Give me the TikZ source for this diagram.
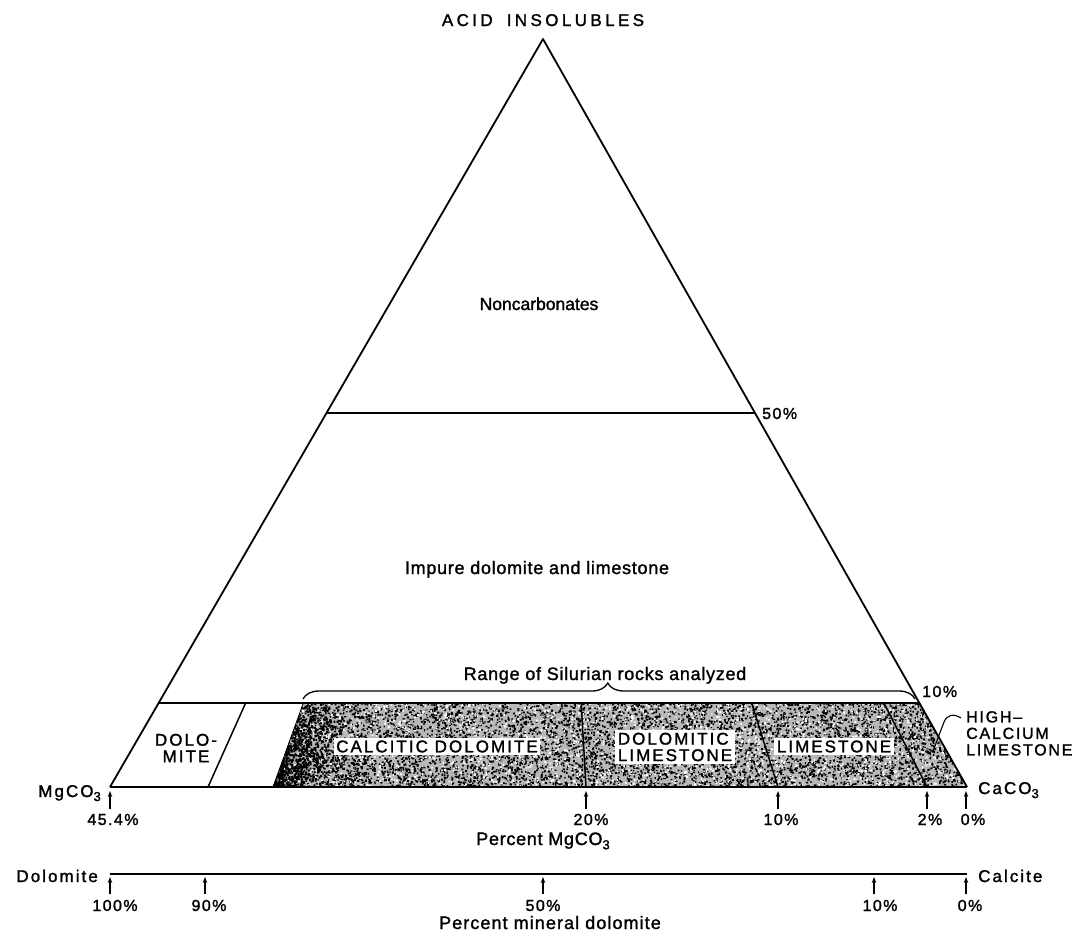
\documentclass[tikz,border=0pt]{standalone}
\usepackage{fontspec}
\setmainfont{Liberation Sans}[FakeBold=1.5]
\usetikzlibrary{calc,arrows.meta,decorations.pathreplacing}
\newcommand\fUC{\fontsize{17}{17}\selectfont\addfontfeature{LetterSpace=12}}
\newcommand\fLC{\fontsize{18}{18}\selectfont\addfontfeature{LetterSpace=4}}
\newcommand\fNum{\fontsize{16}{16}\selectfont\addfontfeature{LetterSpace=9}}
\newcommand\fHC{\fontsize{16}{16.5}\selectfont\addfontfeature{LetterSpace=11}}
\newcommand\mysub[1]{\raisebox{-0.45ex}{\fontsize{13}{13}\selectfont #1}}
\begin{document}
\begin{tikzpicture}[x=1pt,y=-1pt,
  edge/.style={line width=1.8pt,line join=round},
  baseedge/.style={line width=2.6pt},
  divline/.style={line width=1.5pt},
  tickarrow/.style={line width=1.2pt,-{Stealth[length=6pt,width=4.5pt]}},
  lbl/.style={inner sep=0pt,anchor=base},
  boxlbl/.style={fill=white,inner sep=2.5pt,font=\fUC}]
\useasboundingbox (0,0) rectangle (1076,932);
\def\lv{0.1123}
% corners
\coordinate (A) at (543,39);
\coordinate (L) at (110,787);
\coordinate (R) at (967,787);
\coordinate (L50) at ($(L)!0.5!(A)$);
\coordinate (R50) at ($(R)!0.5!(A)$);
\coordinate (L10) at ($(L)!\lv!(A)$);
\coordinate (R10) at ($(R)!\lv!(A)$);
% base points of the dividing lines
\coordinate (bDol) at (208,787);
\coordinate (bSt) at (273,787);
\coordinate (b20) at (586,787);
\coordinate (b10) at (778,787);
\coordinate (b2) at (927,787);
\coordinate (tDol) at ($(bDol)!\lv!(A)$);
\coordinate (tSt) at ($(bSt)!\lv!(A)$);
\coordinate (t20) at ($(b20)!\lv!(A)$);
\coordinate (t10) at ($(b10)!\lv!(A)$);
\coordinate (t2) at ($(b2)!\lv!(A)$);
% stippled field
\begin{scope}
\clip (bSt) -- (tSt) -- (R10) -- (R) -- cycle;
\fill[black!28] (250,690) rectangle (990,800);
\pgfmathsetseed{4242}
\foreach \j in {1,...,50}{
  \fill[black] foreach \i in {1,...,150} {({272+696*rnd},{702+86*rnd}) rectangle ++({1+1.3*rnd},{1+1.3*rnd})};
}
\foreach \j in {1,...,14}{
  \fill[white] foreach \i in {1,...,150} {({272+696*rnd},{702+86*rnd}) rectangle ++({1+1.2*rnd},{1+1.2*rnd})};
}
\foreach \j in {1,...,10}{
  \fill[black] foreach \i in {1,...,150} {({272+90*rnd*rnd},{702+86*rnd}) rectangle ++(1.8,1.8)};
}
\end{scope}
% triangle and levels
\draw[edge] (L) -- (A) -- (R);
\draw[baseedge] (L) -- (R);
\draw[edge] (L50) -- (R50);
\draw[edge] (L10) -- (R10);
\draw[divline] (bDol) -- (tDol);
\draw[line width=0.8pt] (bSt) -- (tSt);
\draw[divline] (b20) -- (t20);
\draw[divline] (b10) -- (t10);
\draw[divline] (b2) -- (t2);
% field labels
\node[boxlbl] (calcdol) at (437,746.5) {CALCITIC DOLOMITE};
\node[boxlbl,align=left] (dollime) at (675,747) {DOLOMITIC\\[-0.5pt]LIMESTONE};
\node[boxlbl] (lime) at (834,746.5) {LIMESTONE};
\node[font=\fUC,align=center,inner sep=0pt] (dolo) at (186,748) {DOLO-\\[-0.5pt]MITE};
\node[font=\fHC,align=left,inner sep=0pt,anchor=north west] (hical) at (966,711) {HIGH--\\CALCIUM\\LIMESTONE};
\coordinate (hcA) at (961,718);
\coordinate (hcB) at (933,751);
\draw[line width=1.1pt] (hcA) .. controls (953,713) and (947,715) .. (944,722) -- (hcB);
% brace
\coordinate (brL) at (303,699);
\coordinate (brR) at (915,699);
\draw[line width=1.3pt,decorate,decoration={brace,amplitude=16pt,aspect=0.498}] (brL) -- (brR);
\node[lbl,font=\fLC] (range) at (605,680) {Range of Silurian rocks analyzed};
% region labels
\node[lbl,font={\fontsize{17}{17}\selectfont\addfontfeature{LetterSpace=20}}] (acid) at (543,26) {ACID\hspace{14pt}INSOLUBLES};
\node[lbl,font=\fontsize{17.5}{17.5}\selectfont] (noncarb) at (539,310) {Noncarbonates};
\node[lbl,font=\fLC] (impure) at (537,574) {Impure dolomite and limestone};
\node[lbl,font=\fNum,anchor=base west] (p50) at (762,419) {50\%};
\node[lbl,font=\fNum,anchor=base west] (p10) at (922,697) {10\%};
\node[lbl,font=\fUC,anchor=base east] (mg) at (101,797) {MgCO\mysub{3}};
\node[lbl,font=\fUC,anchor=base west] (ca) at (978,794) {CaCO\mysub{3}};
% MgCO3 scale
\foreach \n/\x/\t/\tx in {a/110/45.4/113, b/586/20/591, c/778/10/781, d/927/2/930, e/966/0/973}{
  \coordinate (ua\n) at (\x,809);
  \coordinate (ub\n) at (\x,791);
  \draw[tickarrow] (ua\n) -- (ub\n);
  \node[lbl,font=\fNum] (ul\n) at (\tx,825) {\t\%};
}
\node[lbl,font=\fLC] (pmg) at (543,845) {Percent MgCO\mysub{3}};
% mineral scale
\node[lbl,font=\fUC,anchor=base east] (dolm) at (98,882) {Dolomite};
\node[lbl,font=\fUC,anchor=base west] (calc) at (978,882) {Calcite};
\coordinate (sL) at (110,874);
\coordinate (sR) at (967,874);
\draw[line width=2.4pt] (sL) -- (sR);
\foreach \n/\x/\t/\tx in {a/110/100/115, b/205/90/209, c/543/50/543, d/874/10/880, e/966/0/970}{
  \coordinate (la\n) at (\x,894);
  \coordinate (lb\n) at (\x,877);
  \draw[tickarrow] (la\n) -- (lb\n);
  \node[lbl,font=\fNum] (ll\n) at (\tx,911) {\t\%};
}
\node[lbl,font={\fontsize{18}{18}\selectfont\addfontfeature{LetterSpace=6}}] (pmin) at (550,929) {Percent mineral dolomite};
\end{tikzpicture}
\end{document}
